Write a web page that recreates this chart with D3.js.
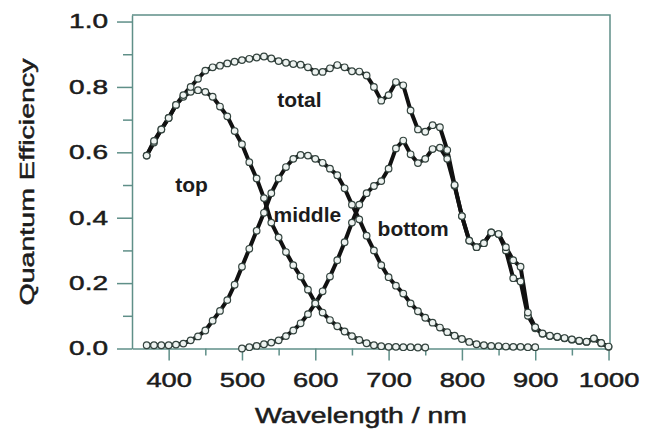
<!DOCTYPE html>
<html>
<head>
<meta charset="utf-8">
<script src="https://cdn.jsdelivr.net/npm/d3@7.9.0/dist/d3.min.js"></script>
<style>
  body { margin: 0; background: #fff; }
  text { font-family: "Liberation Sans", Arial, sans-serif; fill: #1c1c1c; }
  .axis-text { stroke: #1c1c1c; stroke-width: 0.5; }
</style>
</head>
<body>
<svg id="chart" width="659" height="434"></svg>
<script>
// wavelength grid (nm) shared by all series
const wavelengths = [370, 380, 390, 400, 410, 420, 430, 440, 450, 460,
  470, 480, 490, 500, 510, 520, 530, 540, 550, 560,
  570, 580, 590, 600, 610, 620, 630, 640, 650, 660,
  670, 680, 690, 700, 710, 720, 730, 740, 750, 760,
  770, 780, 790, 800, 810, 820, 830, 840, 850, 860,
  870, 880, 890, 900, 910, 920, 930, 940, 950, 960,
  970, 980, 990, 1000];

// quantum efficiency per sub-cell, null where the cell was not measured
const topCell = [0.59, 0.63, 0.67, 0.705, 0.745, 0.77, 0.785, 0.79, 0.785, 0.77,
  0.74, 0.71, 0.665, 0.625, 0.57, 0.52, 0.46, 0.385, 0.34, 0.295,
  0.255, 0.22, 0.18, 0.14, 0.11, 0.087, 0.068, 0.052, 0.038, 0.026,
  0.016, 0.01, 0.007, 0.005, 0.005, 0.004, 0.004, 0.003, 0.003, null,
  null, null, null, null, null, null, null, null, null, null,
  null, null, null, null, null, null, null, null, null, null,
  null, null, null, null];

const middleCell = [0.01, 0.01, 0.01, 0.01, 0.012, 0.015, 0.025, 0.037, 0.055, 0.085,
  0.115, 0.148, 0.195, 0.25, 0.305, 0.36, 0.415, 0.475, 0.52, 0.555,
  0.58, 0.592, 0.59, 0.58, 0.568, 0.55, 0.53, 0.49, 0.44, 0.395,
  0.345, 0.30, 0.255, 0.218, 0.192, 0.168, 0.138, 0.114, 0.094, 0.079,
  0.064, 0.05, 0.039, 0.029, 0.02, 0.013, 0.01, 0.008, 0.007, 0.006,
  0.005, 0.005, 0.004, 0.004, null, null, null, null, null, null,
  null, null, null, null];

const bottomCell = [null, null, null, null, null, null, null, null, null, null,
  null, null, null, 0.0, 0.004, 0.008, 0.013, 0.018, 0.025, 0.038,
  0.055, 0.077, 0.105, 0.138, 0.175, 0.22, 0.27, 0.325, 0.385, 0.44,
  0.475, 0.497, 0.512, 0.55, 0.612, 0.636, 0.594, 0.567, 0.58, 0.61,
  0.614, 0.58, 0.498, 0.405, 0.33, 0.31, 0.322, 0.355, 0.35, 0.30,
  0.215, 0.205, 0.10, 0.062, 0.045, 0.038, 0.035, 0.031, 0.027, 0.023,
  0.02, 0.03, 0.016, 0.005];

const totalCell = [0.59, 0.635, 0.67, 0.705, 0.745, 0.775, 0.80, 0.825, 0.85, 0.86,
  0.865, 0.872, 0.877, 0.882, 0.886, 0.89, 0.893, 0.887, 0.879, 0.874,
  0.87, 0.868, 0.86, 0.846, 0.846, 0.857, 0.867, 0.86, 0.848, 0.847,
  0.835, 0.80, 0.758, 0.775, 0.815, 0.805, 0.728, 0.67, 0.663, 0.683,
  0.677, 0.607, 0.50, 0.405, 0.33, 0.31, 0.322, 0.355, 0.35, 0.31,
  0.27, 0.25, 0.11, 0.065, 0.046, 0.039, 0.036, 0.032, 0.028, 0.024,
  0.021, 0.031, 0.017, 0.006];

const xTicks = [400, 500, 600, 700, 800, 900, 1000];
const xMinorTicks = [450, 550, 650, 750, 850, 950];
const yTicks = [0, 0.2, 0.4, 0.6, 0.8, 1.0];
const yMinorTicks = [0.1, 0.3, 0.5, 0.7, 0.9];

// in-plot labels, anchored in data units (left edge / baseline)
const labels = [
  { text: 'total', wl: 548, qe: 0.74 },
  { text: 'top', wl: 409, qe: 0.48 },
  { text: 'middle', wl: 543, qe: 0.387 },
  { text: 'bottom', wl: 685, qe: 0.345 },
];

const series = [topCell, middleCell, bottomCell, totalCell];

const axisColor = '#5f8f88';

const svg = d3.select('#chart');

const xScale = d3.scaleLinear().domain([350, 1002]).range([132, 610]);
const yScale = d3.scaleLinear().domain([0, 1.02]).range([348.5, 15]);

// frame (top and right)
svg.append('path')
  .attr('d', `M${xScale(350)},${yScale(1.02)}H${xScale(1002)}V${yScale(0)}`)
  .attr('fill', 'none')
  .attr('stroke', axisColor)
  .attr('stroke-width', 1.5);

// minor ticks
svg.append('g')
  .attr('transform', `translate(0, ${yScale(0)})`)
  .call(d3.axisBottom(xScale).tickValues(xMinorTicks).tickSize(7).tickFormat(''))
  .call(g => g.select('.domain').remove());

svg.append('g')
  .attr('transform', `translate(${xScale(350)}, 0)`)
  .call(d3.axisLeft(yScale).tickValues(yMinorTicks).tickSize(9).tickFormat(''))
  .call(g => g.select('.domain').remove());

// major axes
const xAxis = svg.append('g')
  .attr('transform', `translate(0, ${yScale(0)})`)
  .call(d3.axisBottom(xScale).tickValues(xTicks).tickSize(12).tickPadding(12)
    .tickSizeOuter(0).tickFormat(d3.format('d')));

const yAxis = svg.append('g')
  .attr('transform', `translate(${xScale(350)}, 0)`)
  .call(d3.axisLeft(yScale).tickValues(yTicks).tickSize(15).tickPadding(9)
    .tickSizeOuter(0).tickFormat(d3.format('.1f')));

svg.selectAll('.tick line, .domain')
  .attr('stroke', axisColor)
  .attr('stroke-width', 1.5);

xAxis.selectAll('text')
  .attr('class', 'axis-text')
  .attr('font-size', 21)
  .attr('fill', '#1c1c1c')
  .attr('transform', 'scale(1.3,1)');

yAxis.selectAll('text')
  .attr('class', 'axis-text')
  .attr('font-size', 20)
  .attr('fill', '#1c1c1c')
  .attr('transform', function () {
    const x = +d3.select(this).attr('x');
    d3.select(this).attr('x', 0);
    return `translate(${x},0) scale(1.4,1)`;
  });

// axis titles
svg.append('text')
  .attr('class', 'axis-text')
  .attr('text-anchor', 'middle')
  .attr('font-size', 22)
  .attr('transform', 'translate(361,423) scale(1.29,1)')
  .text('Wavelength / nm');

svg.append('text')
  .attr('class', 'axis-text')
  .attr('text-anchor', 'middle')
  .attr('font-size', 21)
  .attr('transform', 'translate(34,182) rotate(-90) scale(1.36,1)')
  .text('Quantum Efficiency');

// curves
const line = d3.line()
  .defined(d => d[1] !== null)
  .x(d => xScale(d[0]))
  .y(d => yScale(d[1]));

const lines = svg.append('g').attr('class', 'lines');
const dots = svg.append('g').attr('class', 'dots');

series.forEach(values => {
  const pts = wavelengths.map((w, i) => [w, values[i]]);

  lines.append('path')
    .datum(pts)
    .attr('d', line)
    .attr('fill', 'none')
    .attr('stroke', '#111')
    .attr('stroke-width', 4)
    .attr('stroke-linejoin', 'round');

  dots.selectAll(null)
    .data(pts.filter(d => d[1] !== null))
    .join('circle')
    .attr('cx', d => xScale(d[0]))
    .attr('cy', d => yScale(d[1]))
    .attr('r', 3.3)
    .attr('fill', '#eef3f1')
    .attr('stroke', '#34443f')
    .attr('stroke-width', 1.2);
});

svg.append('g')
  .selectAll('text')
  .data(labels)
  .join('text')
  .attr('x', d => xScale(d.wl))
  .attr('y', d => yScale(d.qe))
  .attr('font-size', 21)
  .attr('font-weight', 'bold')
  .text(d => d.text);
</script>
</body>
</html>
